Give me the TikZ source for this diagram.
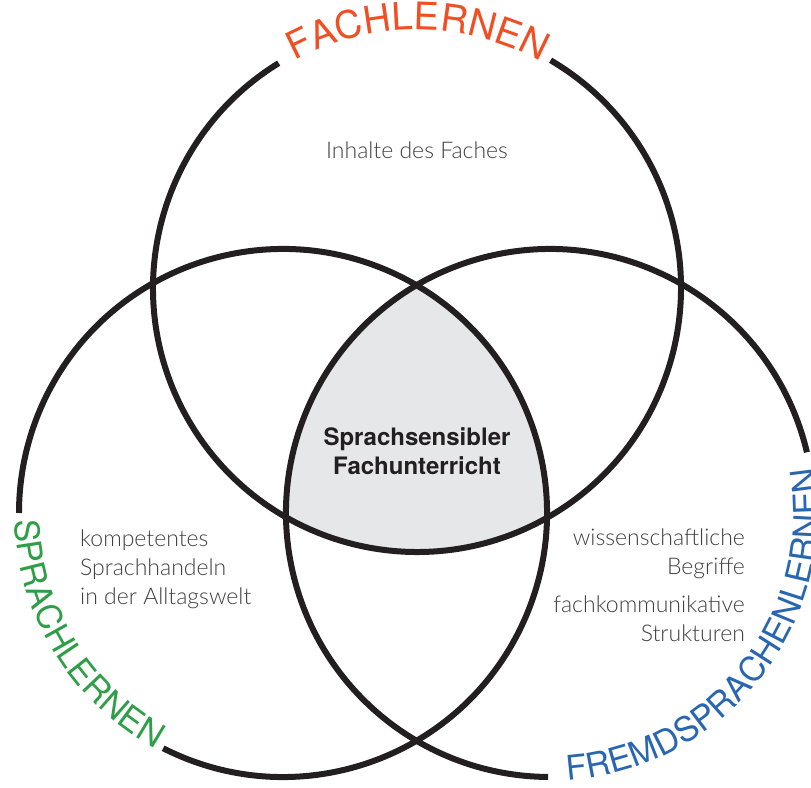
\documentclass[tikz,border=0pt]{standalone}
\usepackage{fontspec}
\setmainfont{TeX Gyre Heros}
\newfontfamily\lightfont{Lato Light}
\usepackage{tikz}
\usetikzlibrary{decorations.text}
\usetikzlibrary{positioning}

\definecolor{fachred}{HTML}{F04E23}
\definecolor{sprachgreen}{HTML}{2E9E48}
\definecolor{fremdblue}{HTML}{2866B1}
\definecolor{ringblack}{HTML}{231F20}
\definecolor{kernshade}{HTML}{E6E7E8}
\definecolor{notegray}{HTML}{3F3F3F}

\begin{document}
\begin{tikzpicture}[x=1pt, y=1pt,
  ring/.style={line width=6pt, draw=ringblack},
  note/.style={inner sep=0pt, text=notegray, font=\lightfont\fontsize{23}{29}\selectfont},
  kern/.style={inner sep=0pt, text=ringblack, font=\bfseries\fontsize{24}{29}\selectfont, align=center}]

\useasboundingbox (0,0) rectangle (811,787);

\coordinate (fach) at (417,499);
\coordinate (sprach) at (283,274);
\coordinate (fremd) at (550,274);

\begin{scope}
  \clip (fach) circle (264);
  \clip (sprach) circle (264);
  \fill[kernshade] (fremd) circle (264);
\end{scope}

\draw[ring] ([shift={(121.6:264)}]fach) arc[start angle=121.6, end angle=419.6, radius=264];
\draw[ring] ([shift={(243:264)}]sprach) arc[start angle=243, end angle=540, radius=264];
\draw[ring] ([shift={(13.3:264)}]fremd) arc[start angle=13.3, end angle=269.6, radius=264];

\path[decorate, decoration={text along path, text align={fit to path},
  text={|\fontsize{38}{38}\selectfont\color{fachred}|FACHLERNEN}}]
  ([shift={(118.4:258)}]fach) arc[start angle=118.4, end angle=62.1, radius=258];
\path[decorate, decoration={text along path, text align={fit to path},
  text={|\fontsize{34}{34}\selectfont\color{sprachgreen}|SPRACHLERNEN}}]
  ([shift={(181.5:268)}]sprach) arc[start angle=181.5, end angle=241.5, radius=268];
\path[decorate, decoration={text along path, text align={fit to path},
  text={|\fontsize{34}{34}\selectfont\color{fremdblue}|FREMDSPRACHENLERNEN}}]
  ([shift={(273.8:268)}]fremd) arc[start angle=273.8, end angle=369.8, radius=268];

\node (inhalte) at (417,637) [note] {Inhalte des Faches};
\node (kernbox) at (417,336) [kern] {Sprachsensibler\\Fachunterricht};
\node (alltag) at (80,218) [note, anchor=west, align=left] {kompetentes\\Sprachhandeln\\in der Alltagswelt};
\node (begriffe) at (745,233) [note, anchor=east, align=right] {wissenschaftliche\\Begriffe};
\node (strukturen) at (745,168.5) [note, anchor=east, align=right] {fachkommunikative\\Strukturen};

\end{tikzpicture}
\end{document}
